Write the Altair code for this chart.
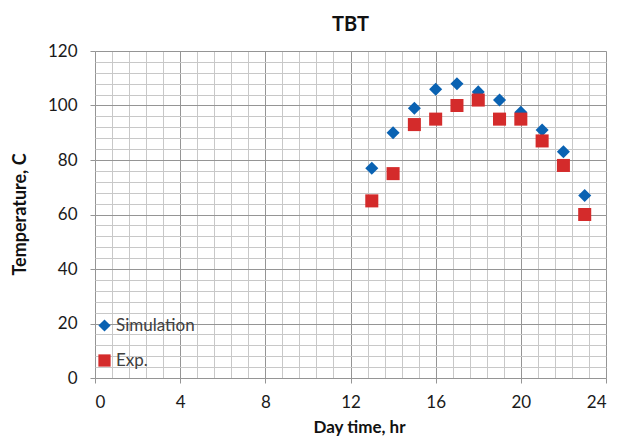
import altair as alt
import pandas as pd

hours = [13, 14, 15, 16, 17, 18, 19, 20, 21, 22, 23]
simulation = [77, 90, 99, 106, 108, 105, 102, 97.5, 91, 83, 67]
experiment = [65, 75, 93, 95, 100, 102, 95, 95, 87, 78, 60]

series_names = ["Simulation", "Exp."]
series_colors = ["#0A62B2", "#D42B2B"]
series_shapes = ["diamond", "square"]

x_major = [0, 4, 8, 12, 16, 20, 24]
y_major = [0, 20, 40, 60, 80, 100, 120]
x_minor = [round(i * 0.8, 1) for i in range(31)]
y_minor = [i * 4 for i in range(31)]

rows = []
for h, s, e in zip(hours, simulation, experiment):
    rows.append({"hour": h, "temp": s, "series": "Simulation"})
    rows.append({"hour": h, "temp": e, "series": "Exp."})
df = pd.DataFrame(rows)

FONT = "Lato"
xscale = alt.Scale(domain=[0, 24], nice=False, zero=False)
yscale = alt.Scale(domain=[0, 120], nice=False)

minor = alt.Chart(df).mark_point(opacity=0).encode(
    x=alt.X("hour:Q", scale=xscale,
            axis=alt.Axis(values=x_minor, grid=True, gridColor="#C8C8C8", gridWidth=1,
                          labels=False, ticks=False, domain=False, title=None, orient="bottom")),
    y=alt.Y("temp:Q", scale=yscale,
            axis=alt.Axis(values=y_minor, grid=True, gridColor="#C8C8C8", gridWidth=1,
                          labels=False, ticks=False, domain=False, title=None, orient="left")),
)

main = alt.Chart(df).mark_point(filled=True, opacity=1, size=170).encode(
    x=alt.X("hour:Q", scale=xscale,
            axis=alt.Axis(values=x_major, grid=True, gridColor="#959595", gridWidth=1,
                          tickSize=5, tickColor="#959595", domain=False,
                          labelFontSize=17, labelColor="#1A1A1A", labelFont=FONT, labelPadding=11,
                          title="Day time, hr", titleFont=FONT, titleFontSize=17,
                          titleFontWeight="bold", titleColor="#111111",
                          titleX=264, titleY=54, titleBaseline="alphabetic", orient="bottom")),
    y=alt.Y("temp:Q", scale=yscale,
            axis=alt.Axis(values=y_major, grid=True, gridColor="#959595", gridWidth=1,
                          tickSize=5, tickColor="#959595", domain=False,
                          labelFontSize=17, labelColor="#1A1A1A", labelFont=FONT, labelPadding=13,
                          title="Temperature, C", titleFont=FONT, titleFontSize=18,
                          titleFontWeight="bold", titleColor="#111111",
                          titleX=-75, titleY=163, titleAngle=-90, titleAlign="center",
                          titleBaseline="middle", orient="left")),
    color=alt.Color("series:N", scale=alt.Scale(domain=series_names, range=series_colors),
                    legend=alt.Legend(title=None, orient="none", legendX=1, legendY=266,
                                      labelFont=FONT, labelFontSize=17, labelColor="#404040",
                                      symbolSize=150, rowPadding=17, labelOffset=3,
                                      padding=0, symbolStrokeWidth=0)),
    shape=alt.Shape("series:N", scale=alt.Scale(domain=series_names, range=series_shapes)),
)

chart = alt.layer(minor, main).resolve_axis(x="independent", y="independent").properties(
    width=511, height=327,
    autosize=alt.AutoSizeParams(type="none"),
    padding={"left": 95, "top": 51, "right": 12, "bottom": 70},
    title=alt.TitleParams("TBT", font=FONT, fontSize=20, fontWeight="bold", color="#111111",
                          anchor="middle", offset=7),
).configure_view(stroke="#959595", strokeWidth=1).configure(background="white")

chart.save("out.html", embed_options={"renderer": "svg", "actions": False})
